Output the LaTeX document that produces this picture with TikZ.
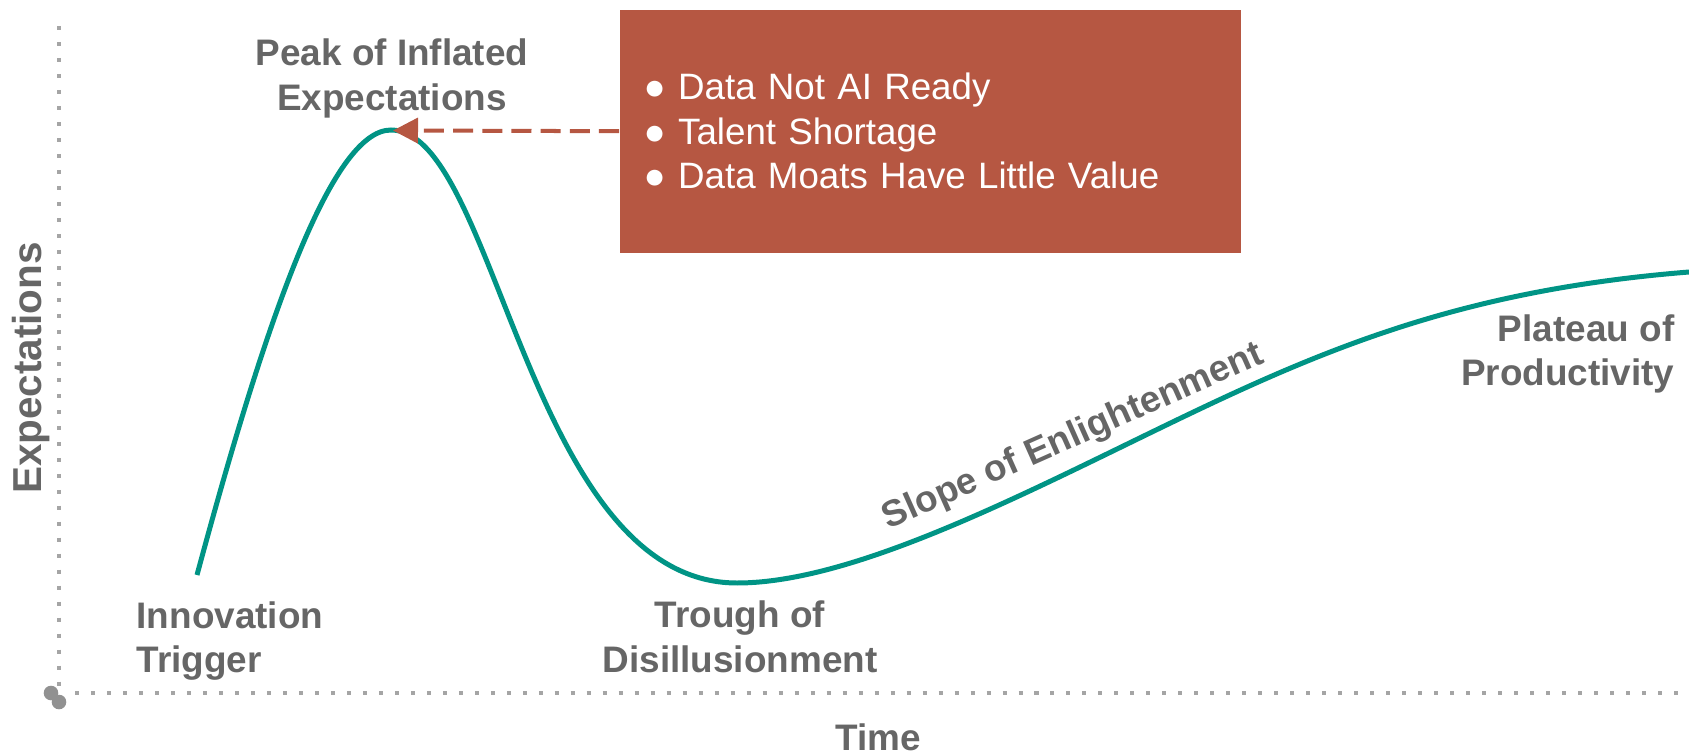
\documentclass[tikz,border=0pt]{standalone}
\usepackage{fontspec}
\setmainfont{Liberation Sans}
\usetikzlibrary{arrows.meta}
\definecolor{hypeteal}{RGB}{0,148,133}
\definecolor{riskred}{RGB}{182,87,66}
\definecolor{labelgray}{RGB}{102,102,102}
\definecolor{axisgray}{RGB}{165,165,165}
\definecolor{origingray}{RGB}{145,145,145}

\begin{document}
\begin{tikzpicture}[
        phase/.style={font=\bfseries\fontsize{10.5}{12.7}\selectfont, text=labelgray, inner sep=0pt},
        axisdots/.style={draw=axisgray, line width=1.14pt, dash pattern=on 1.14pt off 3.41pt},
        riskbox/.style={fill=riskred, text=white, anchor=north west, minimum width=6.21cm, minimum height=2.43cm,
            text width=5.73cm, inner xsep=0.24cm, inner ysep=0pt, align=left, font=\fontsize{10.45}{12.66}\selectfont}
    ]
        \useasboundingbox (0,0) rectangle (16.89,7.53);
        % axes
        \draw[axisdots] (0.59,7.27)--(0.59,0.67);
        \draw[axisdots] (0.75,0.60)--(16.89,0.60);
        \fill[origingray] (0.51,0.60) circle (0.073);
        \fill[origingray] (0.59,0.51) circle (0.073);
        \node[phase, anchor=base] (timelabel) at (8.78,0.03){Time};
        \node[phase, font=\bfseries\fontsize{11.5}{13.8}\selectfont, rotate=90, anchor=base] (expectlabel) at (0.415,3.85){Expectations};
        % hype curve
        \coordinate (trigger pt) at (1.97,1.78);
        \coordinate (peak) at (3.91,6.23);
        \coordinate (trough pt) at (7.37,1.70);
        \coordinate (slope pt) at (11.83,3.36);
        \coordinate (plateau pt) at (16.89,4.81);
        \draw[hypeteal, line width=1.42pt] (trigger pt) .. controls (2.65,4.30) and (3.31,6.23) .. (peak)
            .. controls (4.966,6.23) and (5.28,1.70) .. (trough pt)
            .. controls (8.57,1.70) and (10.33,2.64) .. (slope pt)
            .. controls (13.33,4.08) and (14.69,4.634) .. (plateau pt);
        % phase labels
        \node[phase, align=center] (peaklabel) at (3.92,6.743){Peak of Inflated\\Expectations};
        \node[phase, align=left, anchor=west] (trigger) at (1.36,1.12){Innovation\\Trigger};
        \node[phase, align=center] (trough) at (7.40,1.163){Trough of\\Disillusionment};
        \node[phase, rotate=24, anchor=base] (slope) at (10.77,3.07){Slope of Enlightenment};
        \node[phase, align=right, anchor=east] (plateau) at (16.75,3.99){Plateau of\\Productivity};
        % risks
        \node[riskbox] (risks) at (6.19,7.44){● Data Not AI Ready\\● Talent Shortage\\● Data Moats Have Little Value};
        \coordinate (arrow tip) at (3.93,6.225);
        \draw[riskred, line width=1.14pt, dash pattern=on 5.7pt off 2.6pt, -{Triangle[length=0.25cm,width=0.25cm]}] (risks.west)--(arrow tip);
    \end{tikzpicture}
\end{document}
